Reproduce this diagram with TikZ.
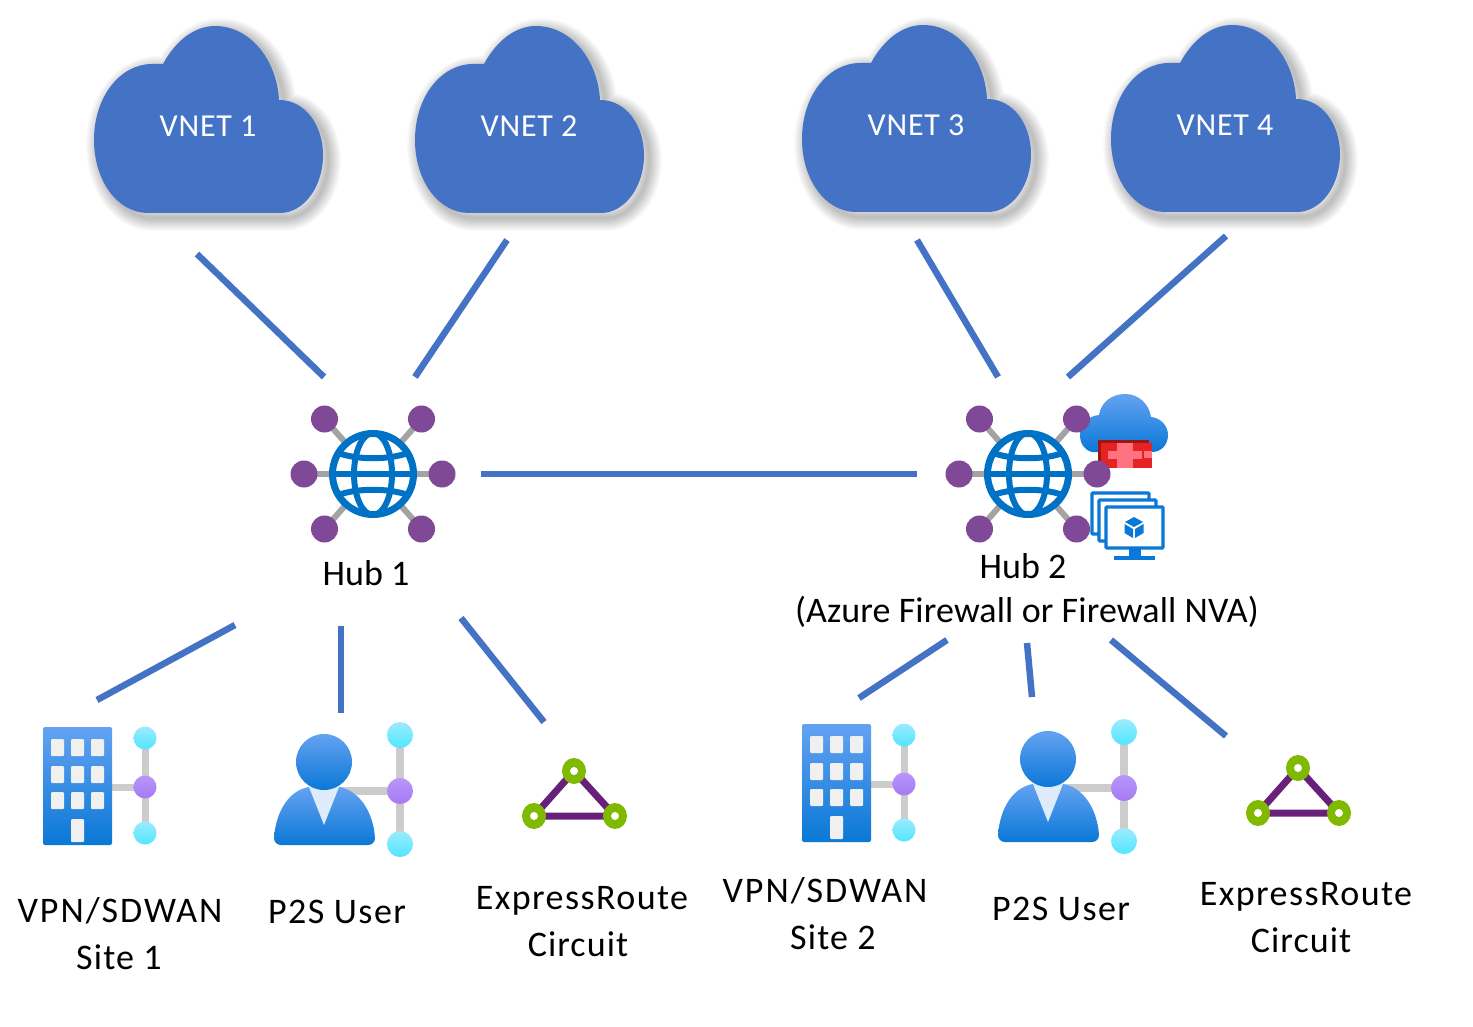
\documentclass[tikz,border=0pt]{standalone}
\usepackage{fontspec}
\setmainfont{Carlito}
\definecolor{vnetblue}{HTML}{4472C4}
\definecolor{azblue}{HTML}{0072C6}
\definecolor{vmblue}{HTML}{0A78D6}
\definecolor{gradtop}{HTML}{64A2F2}
\definecolor{gradbot}{HTML}{0A78D6}
\definecolor{hubpurple}{HTML}{804998}
\definecolor{spoke}{HTML}{A3A3A3}
\definecolor{palegray}{HTML}{CCCCCC}
\definecolor{winwhite}{HTML}{F0F0F0}
\definecolor{tiepale}{HTML}{DDEBFB}
\definecolor{cyanT}{HTML}{9CEBFF}
\definecolor{cyanB}{HTML}{50E6FF}
\definecolor{lilacT}{HTML}{B796F9}
\definecolor{lilacB}{HTML}{A67AF4}
\definecolor{erpurple}{HTML}{68217A}
\definecolor{ergreen}{HTML}{7FBA00}
\definecolor{fwred}{HTML}{E62323}
\definecolor{fwdark}{HTML}{A01414}
\definecolor{fwpink}{HTML}{FF7381}
\newcommand{\spaced}[1]{\addfontfeature{LetterSpace=#1}}
\tikzset{
  link/.style={draw=vnetblue,line width=6.5pt},
  lab/.style={anchor=base,inner sep=0pt,font=\fontsize{36}{40}\selectfont},
  vlab/.style={anchor=base,inner sep=0pt,text=white,font=\fontsize{32}{36}\selectfont},
  grad/.style={top color=gradtop,bottom color=gradbot,draw=none},
  cyandot/.style={circle,minimum size=#1,inner sep=0pt,top color=cyanT,bottom color=cyanB,draw=none},
  lilacdot/.style={circle,minimum size=#1,inner sep=0pt,top color=lilacT,bottom color=lilacB,draw=none},
}
\newcommand{\cloudpath}{(148,213) .. controls (117,213) and (94,180) .. (94,140) .. controls (94,97) and (120,64) .. (152,64) -- (163,64) .. controls (176,40) and (195,26) .. (215,26) .. controls (250,26) and (277,60) .. (279,100) .. controls (305,100) and (323,125) .. (323,155) .. controls (323,188) and (303,213) .. (280,213) -- cycle}
\newcommand{\vnetcloud}[2]{%
  \begin{scope}[shift={(#1,#2)}]
    \begin{scope}[shift={(5,5)}]
      \foreach \w in {26,24,22,20,18,16,14,12,10,8,6,4,2}{\draw[black,opacity=.02,line width=\w pt,line join=round] \cloudpath;}
    \end{scope}
    \fill[vnetblue] \cloudpath;
  \end{scope}}
\newcommand{\hubicon}[3]{%
  \begin{scope}[shift={(#1,#2)}]
    \foreach \a/\b in {-48.5/-55,48.5/-55,-69/0,69/0,-48.5/55,48.5/55}{
      \draw[spoke,line width=6pt] (0,0) -- (\a,\b);
      \fill[hubpurple] (\a,\b) circle (13.5);
    }
    \node[circle,draw=azblue,fill=white,line width=7pt,minimum size=81pt,inner sep=0pt] (#3) at (0,0) {};
    \begin{scope}[azblue,line width=6pt]
      \draw (0,0) ellipse (19 and 41);
      \draw (-41,0) -- (41,0);
      \draw (-35,-21) .. controls (-15,-14) and (15,-14) .. (35,-21);
      \draw (-35,21) .. controls (-15,14) and (15,14) .. (35,21);
    \end{scope}
  \end{scope}}
\newcommand{\siteicon}[2]{%
  \begin{scope}[shift={(#1,#2)}]
    \draw[palegray,line width=7pt] (112,787) -- (145,787) (145,738) -- (145,833);
    \shade[grad,rounded corners=2pt] (43,727) rectangle (112,845);
    \foreach \x in {51,71,91}\foreach \y in {739,766,792}{
      \fill[winwhite,rounded corners=1pt] (\x,\y) rectangle ++(13,17);}
    \fill[winwhite,rounded corners=1pt] (71,819) rectangle (84,842);
    \node[cyandot=23pt] at (145,738) {};
    \node[lilacdot=23pt] at (145,787) {};
    \node[cyandot=23pt] at (145,833) {};
  \end{scope}}
\newcommand{\usericon}[2]{%
  \begin{scope}[shift={(#1,#2)}]
    \draw[palegray,line width=8pt] (340,791) -- (400,791) (400,735) -- (400,844);
    \shade[grad] (274,838) .. controls (276,810) and (290,790) .. (309,787) -- (339,787) .. controls (358,790) and (373,810) .. (375,838) .. controls (375,842) and (372,845) .. (368,845) -- (281,845) .. controls (277,845) and (274,842) .. (274,838) -- cycle;
    \fill[tiepale] (309,787) -- (339,787) -- (324,825) -- cycle;
    \shade[grad] (324,762) circle (28);
    \node[cyandot=26pt] at (400,735) {};
    \node[lilacdot=26pt] at (400,791) {};
    \node[cyandot=26pt] at (400,844) {};
  \end{scope}}
\newcommand{\ercircuit}[2]{%
  \begin{scope}[shift={(#1,#2)}]
    \draw[erpurple,line width=7pt,line join=round] (574,771) -- (615,816) -- (534,816) -- cycle;
    \foreach \px/\py in {574/771,534/816,615/816}{
      \fill[ergreen] (\px,\py) ellipse (12 and 13);
      \fill[white] (\px,\py) circle (4);
    }
  \end{scope}}
\newcommand{\monitor}[2]{\draw[vmblue,line width=3.4pt,fill=white,rounded corners=1pt] (#1,#2) rectangle ++(57,41);}
\begin{document}
\begin{tikzpicture}[x=1pt,y=-1pt]
\useasboundingbox (0,0) rectangle (1473,1027);
\fill[white] (0,0) rectangle (1473,1027);
% clouds
\vnetcloud{0}{0}
\vnetcloud{321}{0}
\vnetcloud{708}{-1}
\vnetcloud{1017}{-1}
\node[vlab] (vnet1) at (208,137) {\spaced{2.5}VNET 1};
\node[vlab] (vnet2) at (529,137) {\spaced{2.5}VNET 2};
\node[vlab] (vnet3) at (916,136) {\spaced{2.5}VNET 3};
\node[vlab] (vnet4) at (1225,136) {\spaced{2.5}VNET 4};
% firewall
\shade[grad] (1092,452) .. controls (1084,450) and (1080,443) .. (1080,435) .. controls (1080,424) and (1088,416) .. (1099,415) .. controls (1101,402) and (1112,394) .. (1125,394) .. controls (1139,394) and (1149,404) .. (1151,417) .. controls (1161,418) and (1168,426) .. (1168,435) .. controls (1168,445) and (1161,452) .. (1152,452) -- cycle;
\fill[fwdark] (1098,440) rectangle (1149,468);
\fill[fwred] (1101,443) rectangle (1152,468);
\fill[fwpink] (1117,443) rectangle (1133,468);
\fill[fwpink] (1108,451) rectangle (1142,459);
\fill[fwpink] (1144,451) rectangle (1152,458);
% VMs
\monitor{1092}{493}
\monitor{1099}{500}
\monitor{1106}{507}
\fill[vmblue] (1129,549) rectangle (1141,556);
\fill[vmblue] (1114,556) rectangle (1155,560);
\fill[vmblue] (1134,517) -- (1143,522) -- (1134,527) -- (1125,522) -- cycle;
\fill[vmblue] (1124.5,524) -- (1133,529) -- (1133,538) -- (1124.5,533) -- cycle;
\fill[vmblue] (1143.5,524) -- (1135,529) -- (1135,538) -- (1143.5,533) -- cycle;
% hubs
\hubicon{373}{474}{hubA}
\hubicon{1028}{474}{hubB}
% bottom icons
\siteicon{0}{0}
\usericon{0}{0}
\ercircuit{0}{0}
\siteicon{759}{-3}
\usericon{724}{-3}
\ercircuit{724}{-3}
% labels
\node[lab] (hub1) at (366,585) {Hub 1};
\node[lab] (hub2) at (1023,578) {Hub 2};
\node[lab] (azfw) at (1027,622) {\spaced{.4}(Azure Firewall or Firewall NVA)};
\node[lab] (site1a) at (120,922) {\spaced{5.5}VPN/SDWAN};
\node[lab] (site1b) at (119,969) {\spaced{3.3}Site 1};
\node[lab] (p2s1) at (337,923) {\spaced{4}P2S User};
\node[lab] (er1a) at (582,909) {\spaced{4}ExpressRoute};
\node[lab] (er1b) at (578,956) {\spaced{3}Circuit};
\node[lab] (site2a) at (825,902) {\spaced{5.5}VPN/SDWAN};
\node[lab] (site2b) at (833,949) {\spaced{3.3}Site 2};
\node[lab] (p2s2) at (1061,920) {\spaced{4}P2S User};
\node[lab] (er2a) at (1306,905) {\spaced{4}ExpressRoute};
\node[lab] (er2b) at (1301,952) {\spaced{3}Circuit};
% connector ends
\coordinate (a1) at (197,254); \coordinate (a2) at (324,377);
\coordinate (b1) at (507,240); \coordinate (b2) at (415,377);
\coordinate (c1) at (917,240); \coordinate (c2) at (998,377);
\coordinate (d1) at (1226,236); \coordinate (d2) at (1068,377);
\coordinate (e1) at (481,474); \coordinate (e2) at (917,474);
\coordinate (f1) at (235,625); \coordinate (f2) at (97,700);
\coordinate (g1) at (341,626); \coordinate (g2) at (341,713);
\coordinate (h1) at (461,618); \coordinate (h2) at (544,722);
\coordinate (i1) at (947,640); \coordinate (i2) at (859,698);
\coordinate (j1) at (1027,643); \coordinate (j2) at (1032,697);
\coordinate (k1) at (1111,640); \coordinate (k2) at (1226,736);
\foreach \s/\t in {a1/a2,b1/b2,c1/c2,d1/d2,e1/e2,f1/f2,g1/g2,h1/h2,i1/i2,j1/j2,k1/k2}
  \draw[link] (\s) -- (\t);
\end{tikzpicture}
\end{document}
